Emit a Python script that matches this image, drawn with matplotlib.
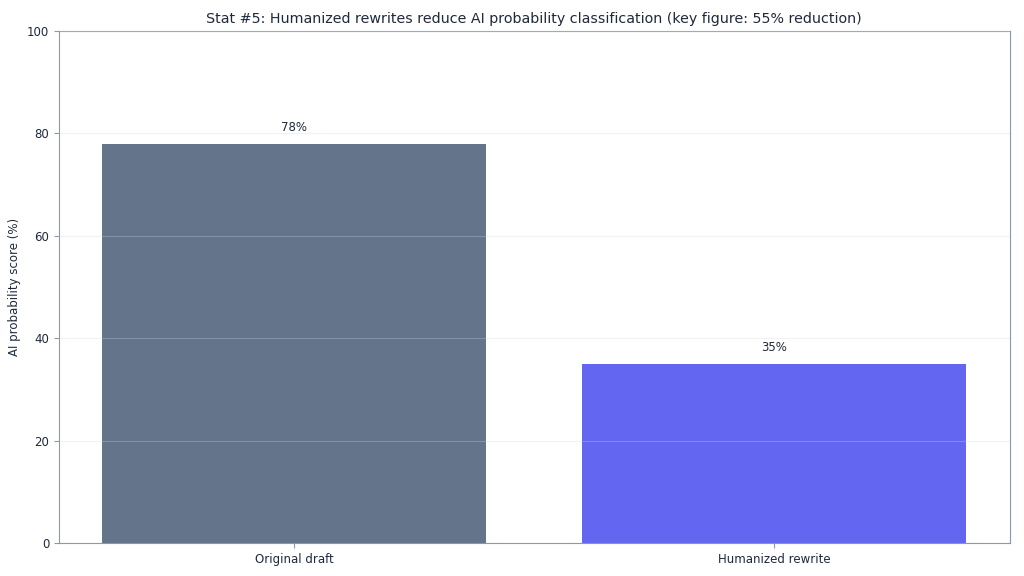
import matplotlib.pyplot as plt

# Данные диаграммы.
labels = ['Original draft', 'Humanized rewrite']
scores = [78, 35]
bar_colors = ['#64748b', '#6366f1']

fig, ax = plt.subplots(figsize=(10.24, 5.76), dpi=100)
bars = ax.bar(labels, scores, color=bar_colors, width=0.8)

# Подписи над столбцами.
for bar, value in zip(bars, scores):
    ax.annotate(f"{value}%", (bar.get_x() + bar.get_width() / 2, value),
                xytext=(0, 7), textcoords='offset points',
                ha='center', va='bottom', fontsize=8.5, color='#1e293b')

# Оформление.
ax.set_title("Stat #5: Humanized rewrites reduce AI probability classification (key figure: 55% reduction)",
             fontsize=10.3, color='#1e293b')
ax.set_ylabel("AI probability score (%)", fontsize=8.5, color='#1e293b')
ax.set_ylim(0, 100)
ax.set_axisbelow(False)
ax.yaxis.grid(True, color='#cbd5e1', linewidth=0.8, alpha=0.3)
for spine in ax.spines.values():
    spine.set_color('#8b98ac')
ax.tick_params(colors='#8b98ac', labelcolor='#1e293b', labelsize=8.5)

fig.subplots_adjust(left=0.0576, right=0.986, top=0.946, bottom=0.0573)
fig.savefig('out.png')
